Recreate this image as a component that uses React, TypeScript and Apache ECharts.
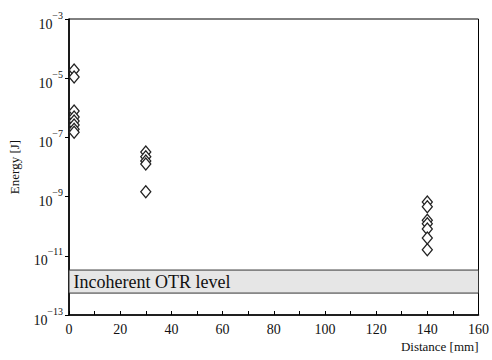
import React, { useEffect, useRef } from "react";
import * as echarts from "echarts";

const seriesName = "Energy";
const distances = [2, 2, 2, 2, 2, 2, 2, 2, 30, 30, 30, 30, 30, 140, 140, 140, 140, 140, 140, 140];
const energies = [
  1.9e-5, 1.1e-5, 7.8e-7, 4.9e-7, 3.6e-7, 2.6e-7, 1.9e-7, 1.5e-7,
  3.2e-8, 2.2e-8, 1.6e-8, 1.26e-8, 1.45e-9,
  6.6e-10, 4.5e-10, 1.6e-10, 1.2e-10, 8.1e-11, 4.0e-11, 1.6e-11,
];
const otrLevelHigh = 3.3e-12;
const otrLevelLow = 5.5e-13;
const otrLabel = "Incoherent OTR level";
const xTicks = [0, 20, 40, 60, 80, 100, 120, 140, 160];
const yExponents = [-13, -11, -9, -7, -5, -3];

const FONT = "Times New Roman, Liberation Serif, serif";

export default function App() {
  const ref = useRef<HTMLDivElement>(null);
  useEffect(() => {
    if (!ref.current) return;
    const chart = echarts.init(ref.current, undefined, { renderer: "svg" });
    const points = distances.map((d, i) => [d, energies[i]]);
    chart.setOption({
      animation: false,
      backgroundColor: "#fff",
      textStyle: { fontFamily: FONT },
      grid: {
        left: 63,
        right: 12,
        top: 19,
        bottom: 45,
        show: true,
        borderColor: "#000",
        borderWidth: 1,
        backgroundColor: "transparent",
      },
      xAxis: {
        type: "value",
        min: xTicks[0],
        max: xTicks[xTicks.length - 1],
        interval: 20,
        name: "Distance [mm]",
        nameLocation: "end",
        nameGap: 0,
        nameTextStyle: {
          fontFamily: FONT,
          fontWeight: "normal",
          fontSize: 13,
          color: "#111",
          align: "right",
          verticalAlign: "top",
          padding: [25, 0, 0, 0],
        },
        axisLine: { show: true, onZero: false, lineStyle: { color: "#000", width: 1.6 } },
        axisTick: { show: true, inside: true, length: 4, lineStyle: { color: "#000", width: 1 } },
        minorTick: { show: true, splitNumber: 2, length: 4, lineStyle: { color: "#000", width: 1 } },
        axisLabel: { fontFamily: FONT, fontSize: 14, color: "#111", margin: 7 },
        splitLine: { show: false },
      },
      yAxis: {
        type: "log",
        logBase: 10,
        min: Math.pow(10, yExponents[0]),
        max: Math.pow(10, yExponents[yExponents.length - 1]),
        interval: 2,
        name: "Energy [J]",
        nameLocation: "middle",
        nameRotate: 90,
        nameGap: 48,
        nameTextStyle: { fontFamily: FONT, fontSize: 13, color: "#111" },
        axisLine: { show: true, lineStyle: { color: "#000", width: 1.6 } },
        axisTick: { show: true, inside: false, length: 4, lineStyle: { color: "#000", width: 1 } },
        splitLine: { show: false },
        axisLabel: {
          margin: 6,
          fontFamily: FONT,
          formatter: (v: number) => {
            const e = Math.round(Math.log10(v));
            return "{b|10}{s|\u2212" + Math.abs(e) + "}";
          },
          rich: {
            b: { fontFamily: FONT, fontSize: 14, color: "#111", padding: [10, 0, 0, 0] },
            s: { fontFamily: FONT, fontSize: 10, color: "#111", padding: [0, 0, 8, 0] },
          },
        },
      },
      series: [
        {
          name: seriesName,
          type: "scatter",
          data: points,
          symbol: "diamond",
          symbolSize: [10, 12],
          itemStyle: { color: "#fff", borderColor: "#222", borderWidth: 1.3, opacity: 1 },
          markArea: {
            silent: true,
            itemStyle: { color: "#e6e6e6", borderColor: "#333", borderWidth: 1 },
            label: {
              show: true,
              position: "insideLeft",
              distance: 5,
              fontFamily: FONT,
              fontSize: 18,
              color: "#111",
              formatter: otrLabel,
            },
            data: [[{ xAxis: xTicks[0], yAxis: otrLevelHigh }, { xAxis: xTicks[xTicks.length - 1], yAxis: otrLevelLow }]],
          },
          z: 3,
        },
      ],
    });
    return () => chart.dispose();
  }, []);
  return <div ref={ref} style={{ width: 492, height: 360, position: "absolute", left: 0, top: 0 }} />;
}
